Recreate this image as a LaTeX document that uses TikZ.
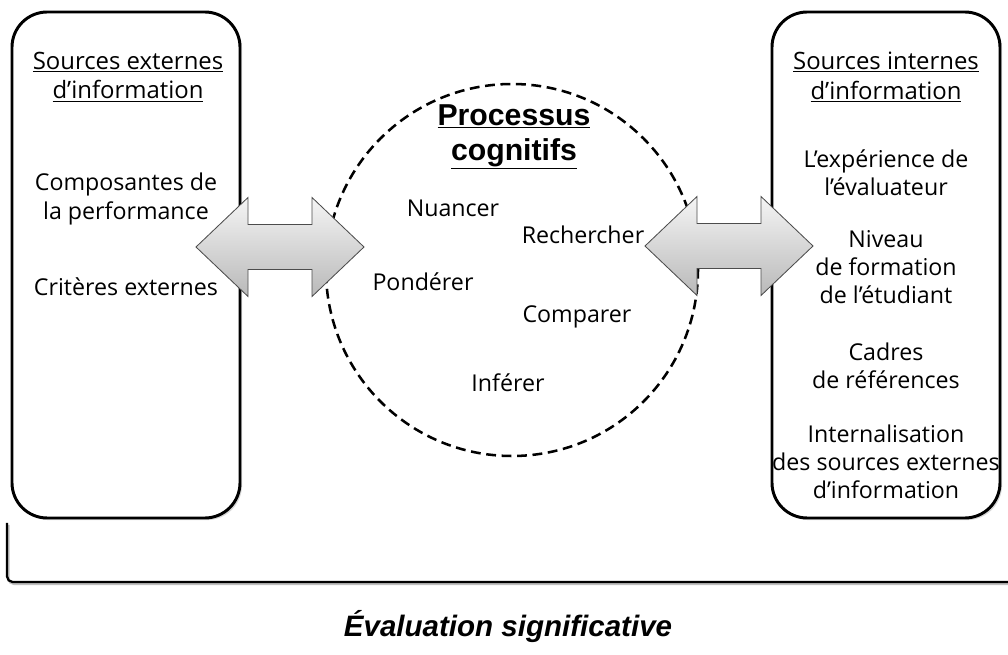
\documentclass[tikz,border=0pt]{standalone}
\usepackage{fontspec}
\setmainfont{Open Sans}
\newfontfamily\arialfont{Liberation Sans}
\usetikzlibrary{shadows}

\tikzset{
    srcbox/.style = {
        rectangle,
        rounded corners = 25pt,
        minimum width = 228*0.025cm,
        minimum height = 506*0.025cm,
        draw = black,
        line width = 2.1pt,
        fill = white,
        drop shadow = {shadow xshift = 1.5pt, shadow yshift = -1.5pt, fill = gray!60, opacity = 0.5},
    },
    main/.style = {font = \fontsize{16.5}{20}\selectfont, align = center},
    echange/.style = {
        draw = gray!60!black,
        line width = 0.6pt,
        top color = gray!8,
        bottom color = gray!55,
    },
}

\begin{document}
\begin{tikzpicture} [x = 0.025cm, y = -0.025cm]
    \useasboundingbox (0,0) rectangle (1008,655);

    % les deux sources
    \node (externe) [srcbox] at (126,265) {};
    \node (interne) [srcbox] at (886,265) {};

    % processus cognitifs
    \node (processus) [circle, draw, line width = 1.8pt, dash pattern = on 7pt off 4pt, minimum size = 372*0.025cm] at (512,270) {};
    \node (titre) [font = \arialfont\bfseries\fontsize{21.5}{25}\selectfont, align = center] at (514,137) {\underline{Processus}\\\underline{cognitifs}};

    \node (nuancer) [main] at (453,208) {Nuancer};
    \node (rechercher) [main] at (583,235) {Rechercher};
    \node (ponderer) [main] at (423,282) {Pondérer};
    \node (comparer) [main] at (577,317) {Comparer};
    \node (inferer) [main] at (508,383) {Inférer};

    % textes des sources externes
    \node (titreext) [main, font = \fontsize{17}{21}\selectfont] at (128,77) {\underline{Sources externes}\\\underline{d’information}};
    \node (composantes) [main] at (126,199) {Composantes de\\la performance};
    \node (criteres) [main] at (126,287) {Critères externes};

    % textes des sources internes
    \node (titreint) [main, font = \fontsize{17}{21}\selectfont] at (886,77) {\underline{Sources internes}\\\underline{d’information}};
    \node (experience) [main] at (886,173) {L’expérience de\\l’évaluateur};
    \node (niveau) [main] at (886,267) {Niveau\\de formation\\de l’étudiant};
    \node (cadres) [main] at (886,366) {Cadres\\de références};
    \node (internal) [main] at (886,462) {Internalisation\\des sources externes\\d’information};

    % flèches d'échange
    \coordinate (gauche) at (280,247);
    \coordinate (droite) at (729,246);
    \foreach \c in {gauche, droite}
        \draw[echange, shift = {(\c)}] (-84,0) -- (-32,-49.5) -- (-32,-22.5) -- (32,-22.5) -- (32,-49.5) -- (84,0)
            -- (32,49.5) -- (32,22.5) -- (-32,22.5) -- (-32,49.5) -- cycle;

    % accolade du bas
    \draw[gray!50, line width = 1.6pt, rounded corners = 4pt] (8.5,525) -- (8.5,584) -- (1008,584);
    \draw[line width = 1.6pt, rounded corners = 4pt] (7,523) -- (7,582) -- (1008,582);
    \node (evaluation) [font = \arialfont\bfseries\itshape\fontsize{21}{24}\selectfont] at (508,627) {Évaluation significative};
\end{tikzpicture}
\end{document}
